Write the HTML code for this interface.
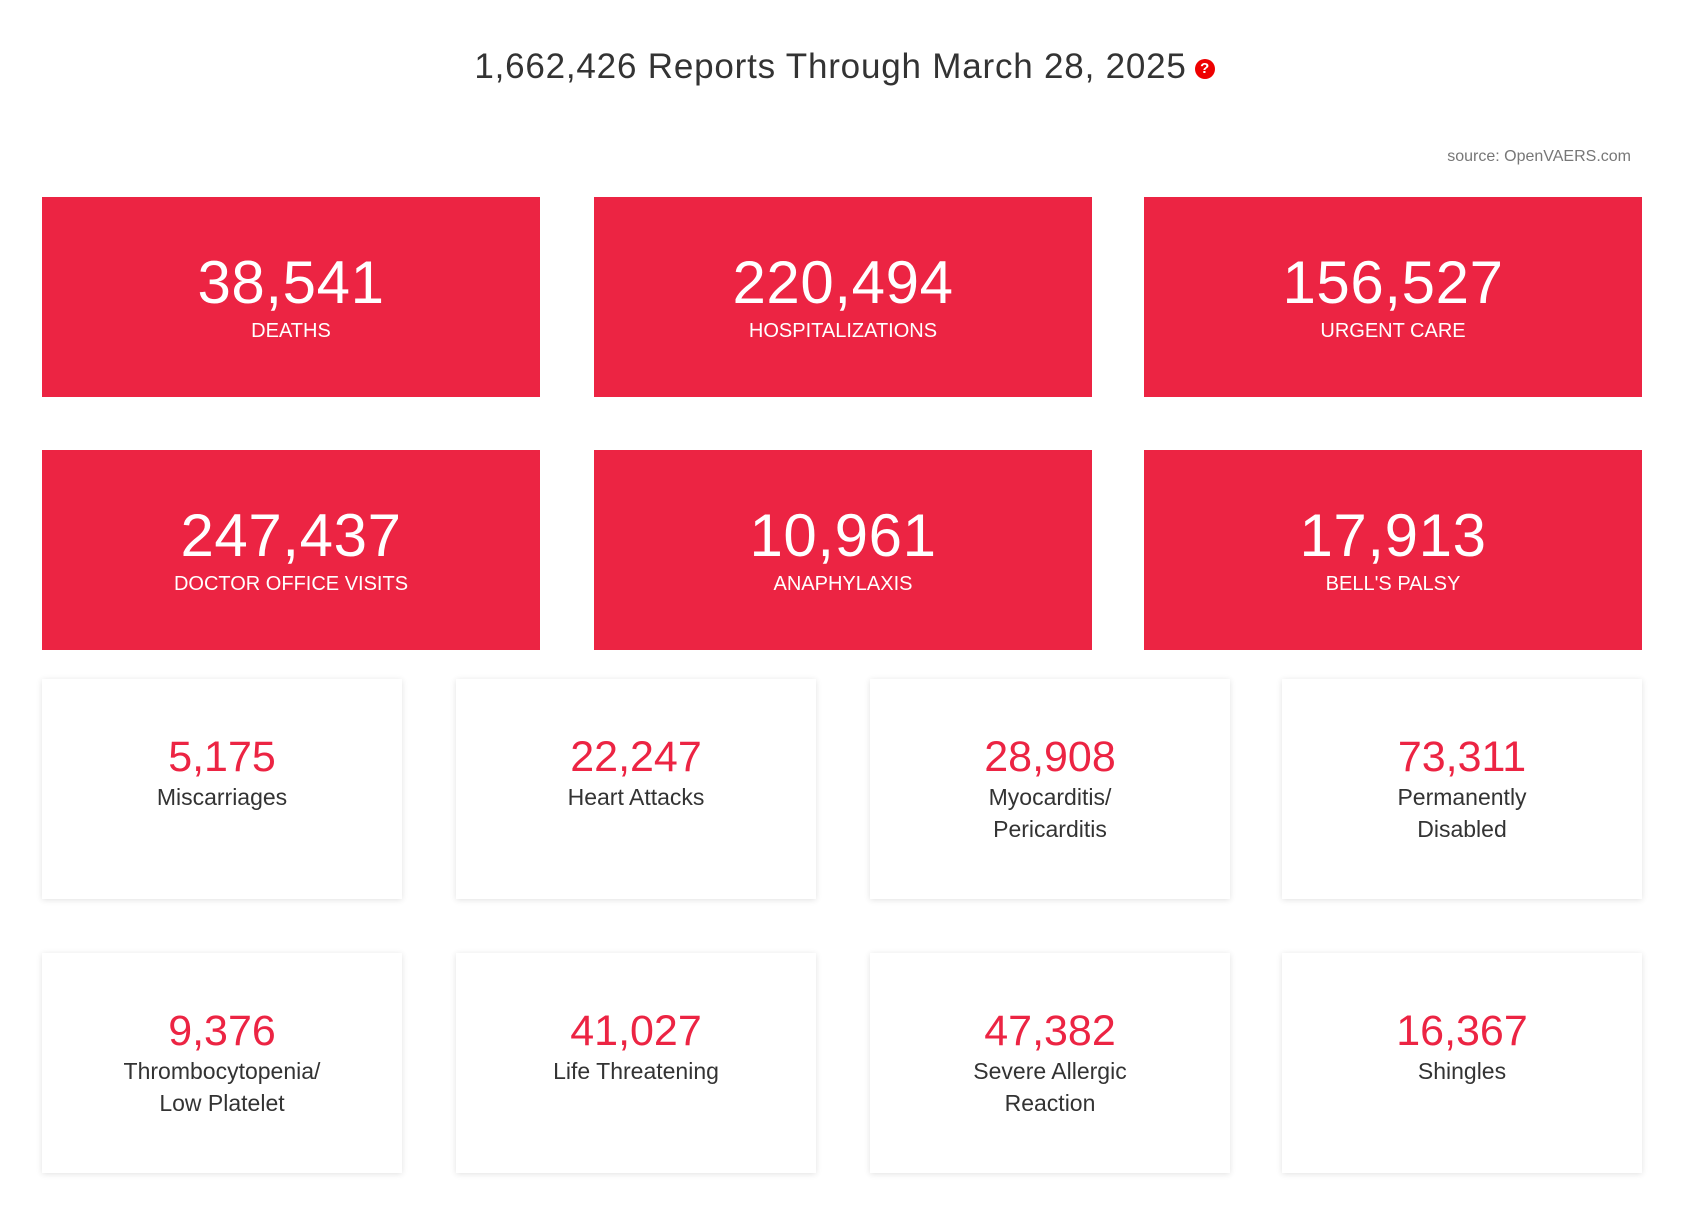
<!DOCTYPE html>
<html><head><meta charset="utf-8"><style>
body{margin:0;width:1689px;height:1220px;background:#fff;font-family:"Liberation Sans",sans-serif;position:relative;overflow:hidden}
.t{position:absolute;left:0;width:1689px;top:47px;text-align:center;font-size:35px;letter-spacing:0.8px;color:#333}
.q{display:inline-block;width:20px;height:20px;border-radius:50%;background:#e00;color:#fff;font-size:15px;line-height:20px;text-align:center;font-weight:bold;vertical-align:middle;margin-left:8px;letter-spacing:0}
.src{position:absolute;right:58px;top:148px;font-size:16px;color:#777}
.r{position:absolute;width:498px;height:200px;background:#EC2443;color:#fff;text-align:center}
.r .n{position:absolute;top:53px;width:100%;font-size:60px;line-height:66px;letter-spacing:0.6px}
.r .l{position:absolute;top:123px;width:100%;font-size:20px}
.w{position:absolute;width:360px;height:220px;background:#fff;box-shadow:0 1px 6px rgba(0,0,0,.12);text-align:center}
.w .n{position:absolute;top:54px;width:100%;font-size:43px;color:#EC2443;line-height:48px}
.w .l{position:absolute;top:102px;width:100%;font-size:23px;line-height:32px;color:#333}
</style></head><body>
<div class="t">1,662,426 Reports Through March 28, 2025<span class="q">?</span></div>
<div class="src">source: OpenVAERS.com</div>
<div class="r" style="left:42px;top:197px"><div class="n">38,541</div><div class="l">DEATHS</div></div>
<div class="r" style="left:594px;top:197px"><div class="n">220,494</div><div class="l">HOSPITALIZATIONS</div></div>
<div class="r" style="left:1144px;top:197px"><div class="n">156,527</div><div class="l">URGENT CARE</div></div>
<div class="r" style="left:42px;top:450px"><div class="n">247,437</div><div class="l">DOCTOR OFFICE VISITS</div></div>
<div class="r" style="left:594px;top:450px"><div class="n">10,961</div><div class="l">ANAPHYLAXIS</div></div>
<div class="r" style="left:1144px;top:450px"><div class="n">17,913</div><div class="l">BELL'S PALSY</div></div>
<div class="w" style="left:42px;top:679px"><div class="n">5,175</div><div class="l">Miscarriages</div></div>
<div class="w" style="left:456px;top:679px"><div class="n">22,247</div><div class="l">Heart Attacks</div></div>
<div class="w" style="left:870px;top:679px"><div class="n">28,908</div><div class="l">Myocarditis/<br>Pericarditis</div></div>
<div class="w" style="left:1282px;top:679px"><div class="n">73,311</div><div class="l">Permanently<br>Disabled</div></div>
<div class="w" style="left:42px;top:953px"><div class="n">9,376</div><div class="l">Thrombocytopenia/<br>Low Platelet</div></div>
<div class="w" style="left:456px;top:953px"><div class="n">41,027</div><div class="l">Life Threatening</div></div>
<div class="w" style="left:870px;top:953px"><div class="n">47,382</div><div class="l">Severe Allergic<br>Reaction</div></div>
<div class="w" style="left:1282px;top:953px"><div class="n">16,367</div><div class="l">Shingles</div></div>
</body></html>
